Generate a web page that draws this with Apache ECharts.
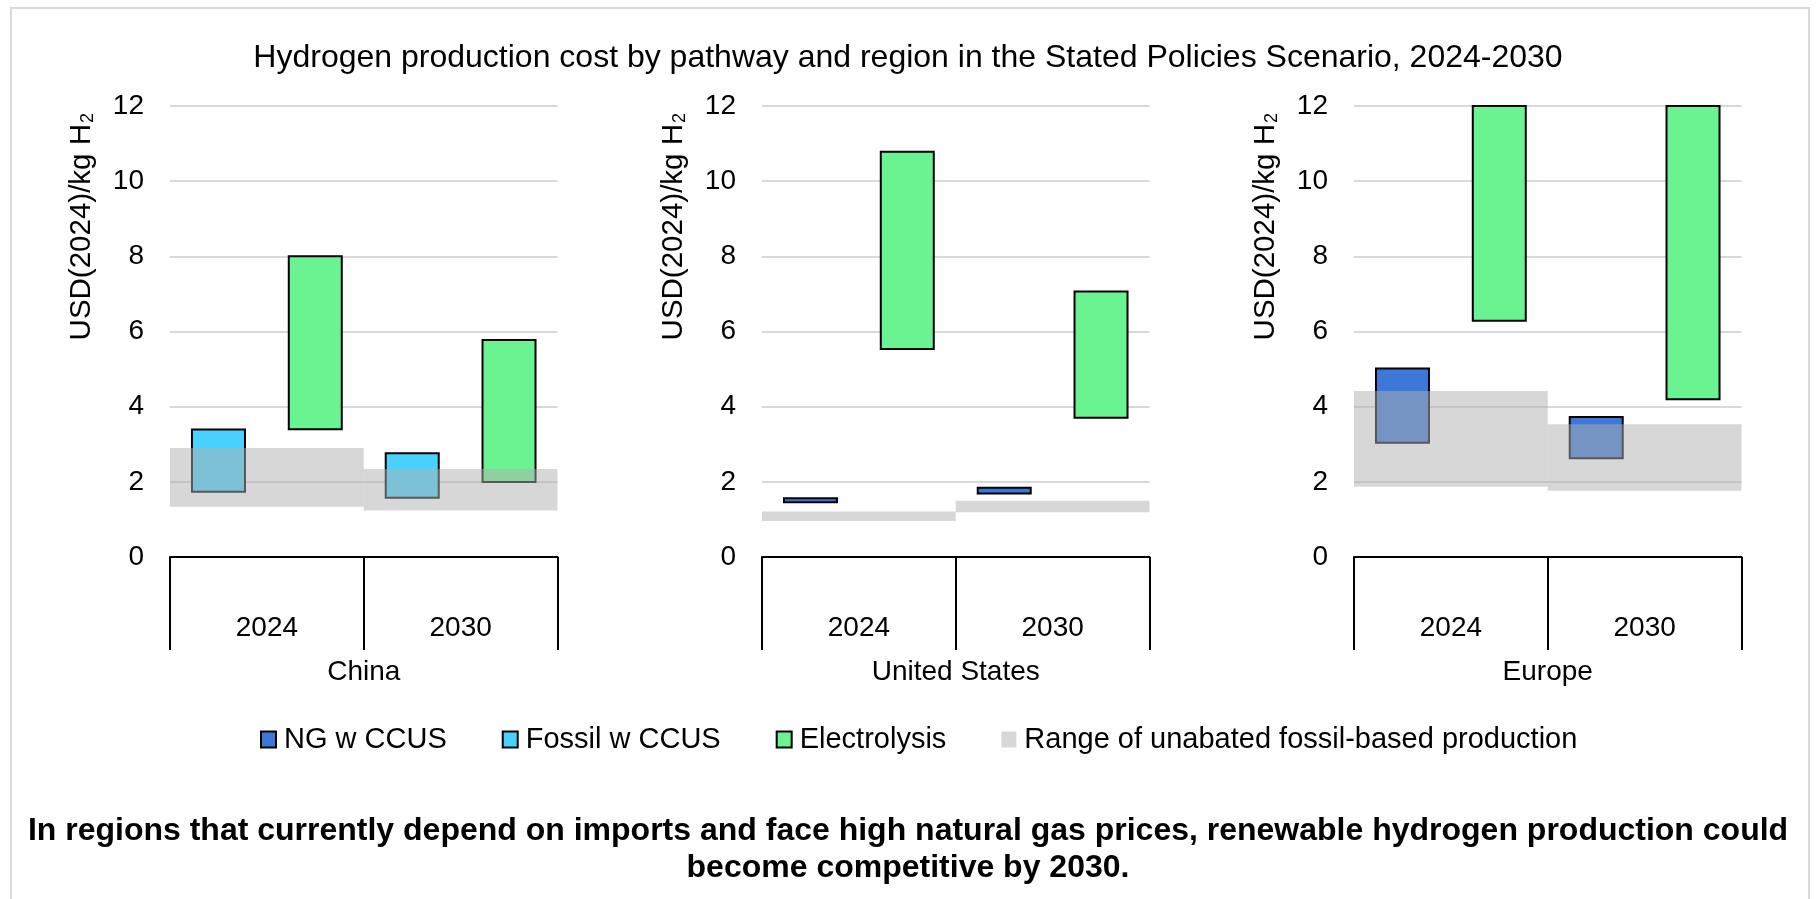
<!DOCTYPE html>
<html>
<head>
<meta charset="utf-8">
<title>Hydrogen production cost</title>
<script src="https://cdn.jsdelivr.net/npm/echarts@6/dist/echarts.min.js"></script>
<style>
html, body { margin: 0; padding: 0; background: #fff; }
#container1 { width: 1816px; height: 899px; }
</style>
</head>
<body>
<div id="container1"></div>
<script>
// categories
var regions = ['China', 'United States', 'Europe'];
var years = ['2024', '2030'];

// low / high ends of each floating bar, one [2024, 2030] pair per region (null = no bar)
var ngLow = [null, [1.43, 1.66], [3.01, 2.60]];
var ngHigh = [null, [1.59, 1.87], [5.04, 3.75]];
var fossilLow = [[1.71, 1.55], null, null];
var fossilHigh = [[3.42, 2.79], null, null];
var elecLow = [[3.37, 1.97], [5.51, 3.68], [6.26, 4.17]];
var elecHigh = [[8.03, 5.80], [10.81, 7.09], [13.5, 13.0]];
var rangeLow = [[1.34, 1.24], [0.96, 1.19], [1.87, 1.76]];
var rangeHigh = [[2.90, 2.34], [1.21, 1.50], [4.42, 3.53]];

var font = 'Liberation Sans, Arial, sans-serif';
var gridLeft = [170, 762, 1354];
var gridW = 387.5;

var dom = document.getElementById('container1');
var myChart = echarts.init(dom);

function diff(hi, lo) {
    return hi.map(function (v, k) { return +(v - lo[k]).toFixed(3); });
}

// transparent base + visible piece = floating bar
function floating(name, r, lo, hi, stack, xIdx, color, extra) {
    var common = {
        type: 'bar',
        stack: stack + r,
        xAxisIndex: xIdx,
        yAxisIndex: r,
        barWidth: 55,
        barGap: '76%'
    };
    var base = Object.assign({}, common, {
        name: 'base',
        data: lo,
        silent: true,
        itemStyle: { color: 'transparent', borderWidth: 0 }
    });
    var top = Object.assign({}, common, {
        name: name,
        data: diff(hi, lo),
        itemStyle: { color: color, borderColor: '#000', borderWidth: 2 }
    }, extra || {});
    if (extra) Object.assign(base, { barWidth: extra.barWidth, z: extra.z });
    return [base, top];
}

var grid = [], xAxis = [], yAxis = [], series = [], graphic = [];

regions.forEach(function (reg, r) {
    grid.push({ left: gridLeft[r], top: 106, width: gridW, height: 451, outerBoundsMode: 'none' });
    xAxis.push({
        type: 'category',
        gridIndex: r,
        data: years,
        axisLine: { show: true, lineStyle: { color: '#000', width: 2 } },
        axisTick: { show: true, interval: 0, length: 93, lineStyle: { color: '#000', width: 2 } },
        axisLabel: { fontSize: 28, color: '#000', margin: 57, fontFamily: font },
        name: reg,
        nameLocation: 'middle',
        nameGap: 101,
        nameTextStyle: { fontSize: 28, color: '#000', fontFamily: font }
    });
    // second category axis only for the full-width range bands
    xAxis.push({ type: 'category', gridIndex: r, data: years, show: false });
    yAxis.push({
        type: 'value',
        gridIndex: r,
        min: 0,
        max: 12,
        interval: 2,
        axisLine: { show: false },
        axisTick: { show: false },
        axisLabel: { fontSize: 28, color: '#000', margin: 26, fontFamily: font },
        splitLine: { lineStyle: { color: '#d9d9d9', width: 2 } }
    });

    if (ngLow[r]) series = series.concat(floating('NG w CCUS', r, ngLow[r], ngHigh[r], 'ccus', 2 * r, '#3b78d8'));
    if (fossilLow[r]) series = series.concat(floating('Fossil w CCUS', r, fossilLow[r], fossilHigh[r], 'ccus', 2 * r, '#4ad2ff'));
    series = series.concat(floating('Electrolysis', r, elecLow[r], elecHigh[r], 'elec', 2 * r, '#6af391'));
    series = series.concat(floating('Range of unabated fossil-based production', r, rangeLow[r], rangeHigh[r], 'range', 2 * r + 1,
        'rgba(175,175,175,0.5)', { barWidth: '100%', z: 5, itemStyle: { color: 'rgba(175,175,175,0.5)', borderWidth: 0 } }));

    graphic.push({
        type: 'text',
        x: gridLeft[r] - 88,
        y: 113,
        rotation: Math.PI / 2,
        style: {
            text: 'USD(2024)/kg H{sub|2}',
            fill: '#000',
            fontSize: 29.5,
            fontFamily: font,
            align: 'right',
            textAlign: 'right',
            verticalAlign: 'middle',
            textVerticalAlign: 'middle',
            rich: { sub: { fontSize: 18, fontFamily: font, fill: '#000', verticalAlign: 'bottom', padding: [0, 0, 0, 1] } }
        }
    });
});

graphic.push({
    type: 'rect',
    shape: { x: 11, y: 8, width: 1798, height: 920 },
    style: { fill: 'none', stroke: '#d9d9d9', lineWidth: 2 },
    silent: true,
    z: -1
});

option = {
    backgroundColor: '#fff',
    animation: false,
    textStyle: { fontFamily: font },
    title: [
        {
            text: 'Hydrogen production cost by pathway and region in the Stated Policies Scenario, 2024-2030',
            left: 'center',
            top: 42,
            padding: 0,
            textStyle: { fontSize: 32, fontWeight: 'normal', color: '#000', fontFamily: font }
        },
        {
            text: 'In regions that currently depend on imports and face high natural gas prices, renewable hydrogen production could\nbecome competitive by 2030.',
            left: 'center',
            top: 813,
            padding: 0,
            textStyle: { fontSize: 32, fontWeight: 'bold', color: '#000', lineHeight: 37, fontFamily: font }
        }
    ],
    legend: {
        data: ['NG w CCUS', 'Fossil w CCUS', 'Electrolysis', 'Range of unabated fossil-based production'],
        left: 260,
        top: 725,
        padding: 0,
        itemWidth: 15,
        itemHeight: 16,
        itemGap: 55,
        icon: 'rect',
        textStyle: { fontSize: 29, color: '#000', fontFamily: font, padding: [0, 0, 0, 3] }
    },
    grid: grid,
    xAxis: xAxis,
    yAxis: yAxis,
    series: series,
    graphic: graphic
};

if (option && typeof option === 'object') {
    myChart.setOption(option, true);
}
</script>
</body>
</html>
